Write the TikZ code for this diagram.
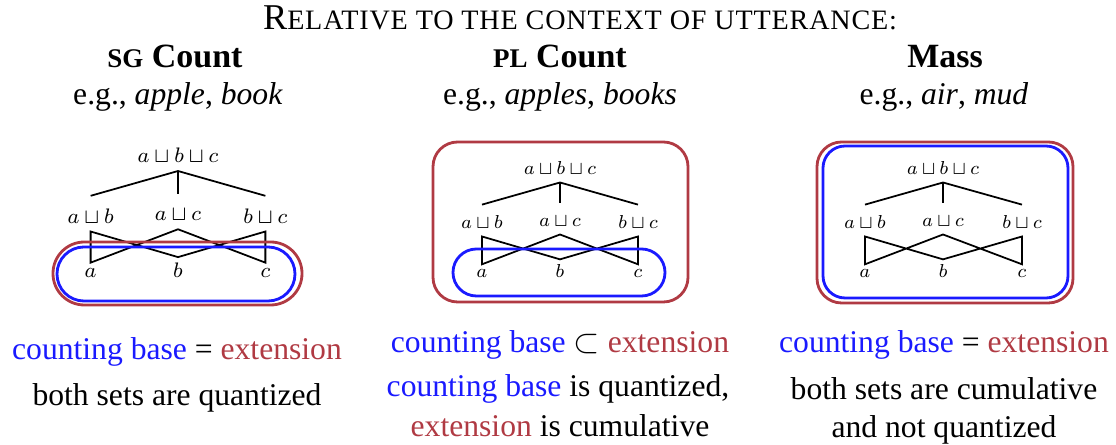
\documentclass[tikz,border=0pt]{standalone}
\usepackage{fontspec}
\setmainfont{Liberation Serif}
\usepackage{amsmath,amssymb}
\usepackage{xcolor}
\definecolor{extred}{HTML}{B03A43}
\definecolor{baseblue}{HTML}{1A1AFF}
\usetikzlibrary{positioning}
\newcommand{\fakesc}[1]{{\fontsize{12}{13}\selectfont\addfontfeature{LetterSpace=3}\MakeUppercase{#1}}}
\newcommand{\cbase}{\textcolor{baseblue}{counting base}}
\newcommand{\extn}{\textcolor{extred}{extension}}

\begin{document}
\begin{tikzpicture}[
        x=0.015cm, y=-0.015cm,
        txt/.style   = {anchor=base, inner sep=0pt, font=\fontsize{13.5}{16}\selectfont},
        head/.style  = {anchor=base, inner sep=0pt, font=\fontsize{14.5}{17}\selectfont\bfseries},
        sumnode/.style  = {anchor=base, font=\footnotesize, inner xsep=0pt, inner ysep=2.5pt,
                        text height=7.7pt, text depth=0.5pt},
        atom/.style  = {anchor=base, font=\footnotesize, inner xsep=0pt, inner ysep=2.2pt},
        hasse/.style = {line width=0.75pt},
        extset/.style  = {draw=extred, line width=1.2pt},
        baseset/.style = {draw=baseblue, line width=1.2pt}
    ]
        \useasboundingbox (0,0) rectangle (1116,445);

        % ---- Headings ----
        \node[txt, font=\fontsize{15.5}{18}\selectfont] (title) at (580,30)
            {R\fakesc{elative to the context of utterance:}};
        \node[head] (sghd) at (175,68) {{\fontsize{11.5}{13}\selectfont SG} Count};
        \node[head] (plhd) at (560,68) {{\fontsize{11.5}{13}\selectfont PL} Count};
        \node[head] (mshd) at (945,68) {Mass};
        \node[txt] (sgeg) at (178,105) {e.g., \textit{apple}, \textit{book}};
        \node[txt] (pleg) at (560,105) {e.g., \textit{apples}, \textit{books}};
        \node[txt] (mseg) at (944,105) {e.g., \textit{air}, \textit{mud}};

        % ---- SG lattice ----
        \begin{scope}[shift={(178,278)}, scale=1.12, transform shape]
            \node[sumnode] (sgabc) at (0,-103) {$a\sqcup b\sqcup c$};
            \node[sumnode] (sgab) at (-78,-49) {$a\sqcup b$};
            \node[sumnode] (sgac) at (0,-51) {$a\sqcup c$};
            \node[sumnode] (sgbc) at (78,-49) {$b\sqcup c$};
            \node[atom] (sga) at (-78,0) {$a$};
            \node[atom] (sgb) at (0,0) {$b$};
            \node[atom] (sgc) at (78,0) {$c$};
            \draw[hasse] (sgab.north) -- (sgabc.south) -- (sgbc.north);
            \draw[hasse] (sgabc.south) -- (sgac.north);
            \draw[hasse] (sgab.south) -- (sga.north) -- (sgac.south) -- (sgc.north)
                -- (sgbc.south) -- (sgb.north) -- cycle;
        \end{scope}
        \draw[extset, rounded corners=13.4pt] (53,242) rectangle (302,305);
        \draw[baseset, rounded corners=11.5pt] (57,247) rectangle (295,301);

        % ---- PL lattice ----
        \begin{scope}[shift={(560,278)}]
            \node[sumnode] (plabc) at (0,-103) {$a\sqcup b\sqcup c$};
            \node[sumnode] (plab) at (-78,-49) {$a\sqcup b$};
            \node[sumnode] (plac) at (0,-51) {$a\sqcup c$};
            \node[sumnode] (plbc) at (78,-49) {$b\sqcup c$};
            \node[atom] (pla) at (-78,0) {$a$};
            \node[atom] (plb) at (0,0) {$b$};
            \node[atom] (plc) at (78,0) {$c$};
            \draw[hasse] (plab.north) -- (plabc.south) -- (plbc.north);
            \draw[hasse] (plabc.south) -- (plac.north);
            \draw[hasse] (plab.south) -- (pla.north) -- (plac.south) -- (plc.north)
                -- (plbc.south) -- (plb.north) -- cycle;
        \end{scope}
        \draw[extset, rounded corners=10.5pt] (433,142) rectangle (688,302);
        \draw[baseset, rounded corners=10pt] (453,249) rectangle (665,296);

        % ---- Mass lattice ----
        \begin{scope}[shift={(943,278)}]
            \node[sumnode] (msabc) at (0,-103) {$a\sqcup b\sqcup c$};
            \node[sumnode] (msab) at (-78,-49) {$a\sqcup b$};
            \node[sumnode] (msac) at (0,-51) {$a\sqcup c$};
            \node[sumnode] (msbc) at (79,-49) {$b\sqcup c$};
            \node[atom] (msa) at (-78,0) {$a$};
            \node[atom] (msb) at (0,0) {$b$};
            \node[atom] (msc) at (79,0) {$c$};
            \draw[hasse] (msab.north) -- (msabc.south) -- (msbc.north);
            \draw[hasse] (msabc.south) -- (msac.north);
            \draw[hasse] (msab.south) -- (msa.north) -- (msac.south) -- (msc.north)
                -- (msbc.south) -- (msb.north) -- cycle;
        \end{scope}
        \draw[extset, rounded corners=10.5pt] (817,142) rectangle (1073,303);
        \draw[baseset, rounded corners=9.4pt] (823,146) rectangle (1068,298);

        % ---- Captions ----
        \node[txt] (sgrel) at (177,360) {\cbase{} = \extn};
        \node[txt] (sgq) at (177,406) {both sets are quantized};
        \node[txt] (plrel) at (560,353) {\cbase{} $\subset$ \extn};
        \node[txt] (plq1) at (558,397) {\cbase{} is quantized,};
        \node[txt] (plq2) at (560,437) {\extn{} is cumulative};
        \node[txt] (msrel) at (944,353) {\cbase{} = \extn};
        \node[txt] (msq1) at (944,400) {both sets are cumulative};
        \node[txt] (msq2) at (944,438) {and not quantized};
    \end{tikzpicture}
\end{document}
